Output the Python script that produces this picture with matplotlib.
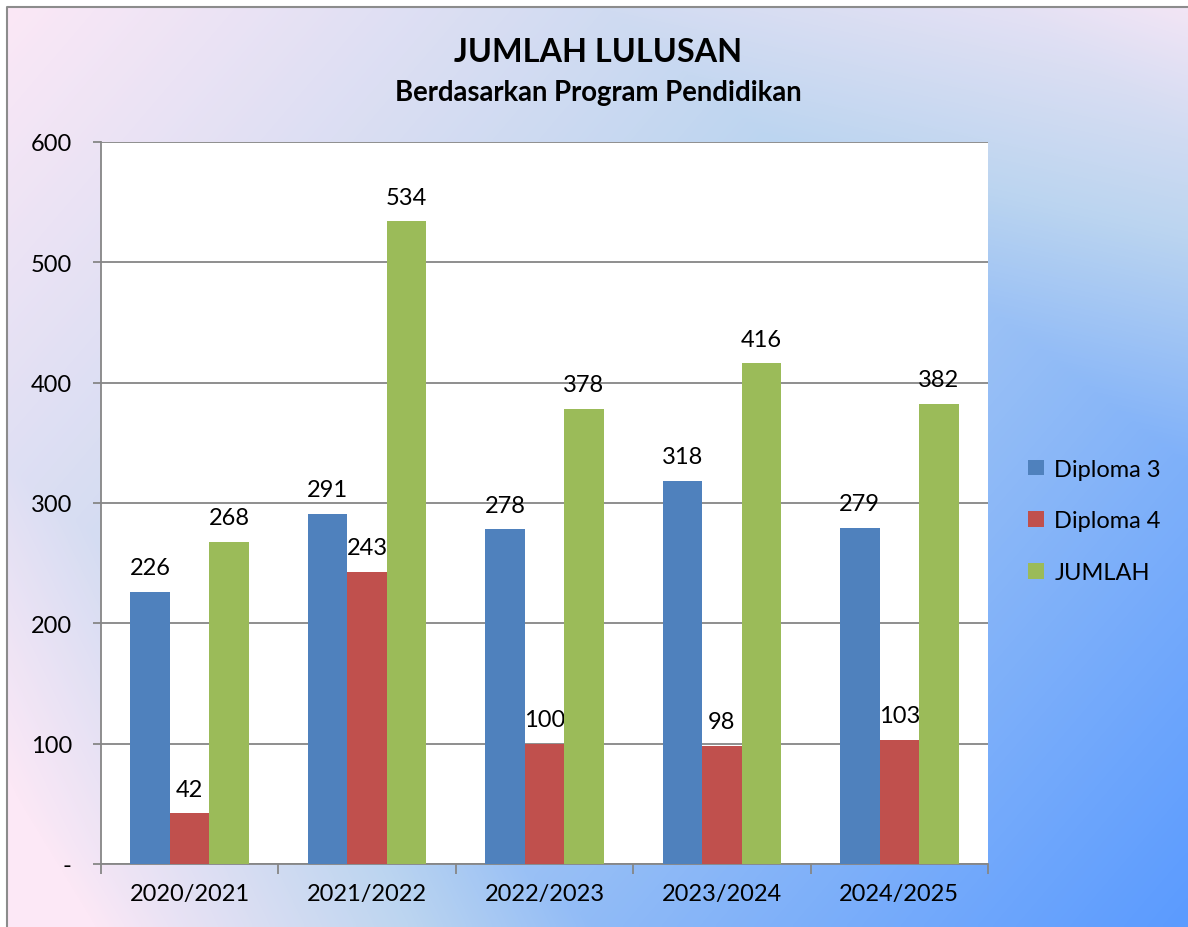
import matplotlib
matplotlib.use("Agg")
import matplotlib.pyplot as plt
import numpy as np
from matplotlib.colors import LinearSegmentedColormap
from matplotlib.patches import Patch

plt.rcParams["font.family"] = ["Lato", "DejaVu Sans"]

# data
years = ["2020/2021", "2021/2022", "2022/2023", "2023/2024", "2024/2025"]
diploma3 = [226, 291, 278, 318, 279]
diploma4 = [42, 243, 100, 98, 103]
jumlah = [268, 534, 378, 416, 382]
series_names = ["Diploma 3", "Diploma 4", "JUMLAH"]
series_colors = ["#4F81BD", "#C0504D", "#9BBB59"]
y_ticks = [0, 100, 200, 300, 400, 500, 600]
y_labels = ["-", "100", "200", "300", "400", "500", "600"]

W, H = 1188, 928
fig = plt.figure(figsize=(W / 100, H / 100), dpi=100)
fig.patch.set_facecolor("white")

# gradient background (pink corners -> blue bottom right)
bg = fig.add_axes([0, 0, 1, 1], zorder=-5)
u, v = np.meshgrid(np.linspace(0, 1, 300), np.linspace(0, 1, 240))
s = 0.6 * u + 0.4 * v
d = np.abs(u - v)
w = np.clip(s - 1.0 * np.clip(d - 0.5, 0, None) - 0.3 * np.clip(d - 0.85, 0, None), 0, 1)
cmap = LinearSegmentedColormap.from_list(
    "bg", [(0, "#FCE8F6"), (0.45, "#BCD5F0"), (1, "#5B9BFF")])
bg.imshow(w, cmap=cmap, vmin=0, vmax=1, extent=[0, W, H, 0], aspect="auto",
          interpolation="bilinear")
bg.fill_between([0, W], 0, 7, color="white", lw=0)
bg.fill_between([0, 7], 0, H, color="white", lw=0)
bg.plot([7, 7, W], [H, 8, 8], color="#8C8C8C", lw=1.5)
bg.set_xlim(0, W)
bg.set_ylim(H, 0)
bg.axis("off")

ax = fig.add_axes([101 / W, 1 - 865 / H, (988 - 101) / W, (865 - 143) / H])
ax.set_facecolor("white")

x = np.arange(len(years))
width = 0.2225
for i, (vals, name, col) in enumerate(zip([diploma3, diploma4, jumlah],
                                          series_names, series_colors)):
    bars = ax.bar(x + (i - 1) * width, vals, width, color=col, label=name, zorder=3)
    ax.bar_label(bars, padding=10, fontsize=17)

ax.set_xlim(-0.5, len(years) - 0.5)
ax.set_ylim(0, 600)
ax.set_yticks(y_ticks)
ax.set_yticklabels(y_labels, fontsize=17)
ax.set_xticks(x)
ax.set_xticklabels(years, fontsize=17)
ax.set_xticks(np.arange(-0.5, len(years)), minor=True)
ax.tick_params(axis="x", which="major", length=0, pad=14)
ax.tick_params(axis="x", which="minor", length=7, width=1.3, color="#868686")
ax.tick_params(axis="y", length=6, width=1.3, color="#868686", pad=15)
ax.grid(axis="y", color="#868686", lw=1.3, zorder=0)
for side in ["top", "right"]:
    ax.spines[side].set_visible(False)
for side in ["left", "bottom"]:
    ax.spines[side].set_color("#868686")
    ax.spines[side].set_linewidth(1.3)

handles = [Patch(facecolor=c, label=n) for c, n in zip(series_colors, series_names)]
fig.legend(handles=handles, loc="center left", bbox_to_anchor=(1007 / W, 1 - 522 / H),
           frameon=False, fontsize=17, handlelength=0.65, handleheight=0.65,
           handletextpad=0.45, labelspacing=1.3)

fig.text(598 / W, 1 - 52 / H, "JUMLAH LULUSAN", ha="center", va="center",
         fontsize=23.3, fontweight="bold")
fig.text(598 / W, 1 - 93 / H, "Berdasarkan Program Pendidikan", ha="center",
         va="center", fontsize=19.8, fontweight="bold")

fig.savefig("out.png", dpi=100)
